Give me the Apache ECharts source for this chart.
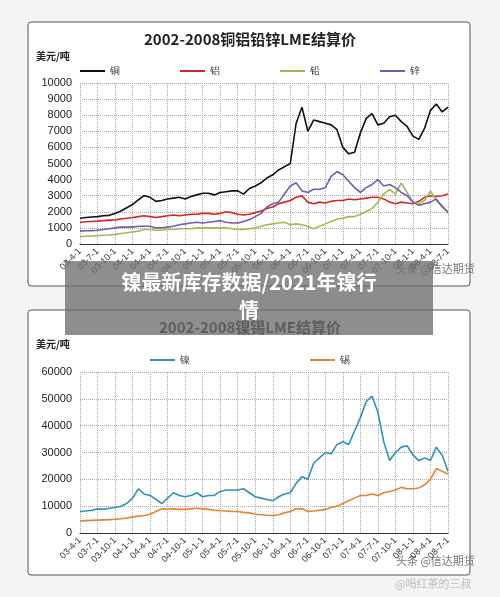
<!DOCTYPE html><html><head><meta charset="utf-8">
<script src="https://cdn.jsdelivr.net/npm/echarts@6/dist/echarts.min.js"></script>
<style>html,body{margin:0;background:#f4f4f4}#c{width:500px;height:597px}</style></head><body><div id="c"></div>
<script>
const months=[];for(let y=3;y<=8;y++)for(let m=1;m<=12;m++){if((y===3&&m<4)||(y===8&&m>7))continue;months.push('0'+y+'-'+m+'-1');}
const copper=[1600,1650,1680,1700,1750,1780,1900,2050,2250,2450,2750,3000,2900,2650,2700,2800,2850,2900,2800,2950,3050,3150,3150,3050,3200,3250,3300,3300,3100,3450,3600,3800,4100,4300,4600,4800,5000,7500,8500,7000,7700,7600,7500,7400,7100,6000,5600,5700,6900,7800,8100,7400,7500,7900,8000,7600,7300,6700,6500,7200,8300,8700,8200,8500];
const aluminium=[1350,1380,1400,1420,1450,1480,1500,1550,1600,1650,1700,1750,1700,1650,1700,1750,1800,1750,1800,1850,1850,1900,1900,1850,1900,2000,1950,1850,1800,1850,1950,2050,2200,2300,2500,2600,2700,2900,3000,2600,2500,2600,2550,2650,2700,2700,2800,2750,2800,2850,2900,2900,2800,2600,2500,2600,2550,2500,2650,2900,3000,2950,3000,3100];
const lead=[450,480,500,520,540,560,600,650,700,750,800,900,900,850,850,900,900,950,950,950,1000,1000,1000,1000,1000,1000,950,900,900,950,1000,1100,1200,1250,1300,1350,1200,1250,1200,1100,950,1100,1250,1400,1550,1600,1700,1700,1850,2000,2200,2600,3100,3400,3100,3800,3200,2600,2500,2700,3300,2700,2400,1900];
const zinc=[800,820,830,850,900,950,1000,1050,1050,1050,1100,1100,1100,1000,1000,1050,1100,1200,1250,1300,1350,1300,1350,1400,1450,1350,1300,1300,1400,1500,1700,1900,2300,2500,2600,3100,3600,3800,3300,3200,3400,3400,3500,4200,4500,4300,3900,3500,3200,3500,3700,4000,3600,3700,3500,3200,3000,2600,2400,2500,2600,2800,2300,2000];
const nickel=[8000,8200,8500,9000,8800,9200,9500,10000,11000,13000,16500,14500,14000,12500,11000,13000,15000,14000,13500,14000,15000,13500,14000,14000,15500,16000,16000,16000,16500,15000,13500,13000,12500,12000,13500,14500,15000,18500,21000,20000,26000,28000,30000,29500,33000,34000,33000,38000,43000,49000,51000,45000,34000,27000,30000,32000,32500,29000,27000,28000,27000,32000,29000,23000];
const tin=[4500,4600,4700,4800,4900,5000,5100,5300,5600,6000,6300,6500,7000,8000,9000,9000,9000,8800,8800,9000,9200,9000,8800,8500,8300,8200,8000,8000,7700,7500,7000,6800,6600,6500,6800,7500,8000,9000,9000,8000,8200,8500,8800,9500,10000,11000,12000,13000,14000,14000,14500,14000,15000,15500,16000,17000,16500,16500,16800,18000,20000,24000,23000,22000];
const ch=echarts.init(document.getElementById('c'));
const xa=i=>({type:'category',gridIndex:i,data:months,boundaryGap:false,
 axisLine:{lineStyle:{color:'#333'}},axisTick:{show:false},
 axisLabel:{interval:2,rotate:45,fontSize:9,color:'#333',margin:6},
 splitLine:{show:true,interval:2,lineStyle:{type:'dotted',color:'#aaa'}}});
const ya=(i,max,iv)=>({type:'value',gridIndex:i,min:0,max:max,interval:iv,
 axisLabel:{fontSize:11,color:'#222',formatter:v=>String(v)},axisLine:{show:false},
 splitLine:{lineStyle:{type:'dotted',color:'#aaa'}}});
const ln=(name,data,color,i)=>({name,type:'line',data,xAxisIndex:i,yAxisIndex:i,showSymbol:false,
 lineStyle:{width:1.6,color},itemStyle:{color}});
ch.setOption({animation:false,
 grid:[{left:80,right:52,top:83,height:161},{left:80,right:52,top:372,height:161}],
 xAxis:[xa(0),xa(1)],yAxis:[ya(0,10000,1000),ya(1,60000,10000)],
 legend:[{data:['铜','铝','铅','锌'],top:61,left:'center',icon:'rect',itemWidth:25,itemHeight:2,itemGap:60,textStyle:{fontSize:10,color:'#333'}},
  {data:['镍','锡'],top:350,left:'center',icon:'rect',itemWidth:25,itemHeight:2,itemGap:120,textStyle:{fontSize:10,color:'#333'}}],
 series:[ln('铜',copper,'#111',0),ln('铝',aluminium,'#d8261f',0),ln('铅',lead,'#9bbf4f',0),ln('锌',zinc,'#7a5ab0',0),
  ln('镍',nickel,'#2f93b8',1),ln('锡',tin,'#e8822f',1)],
 graphic:[
  {type:'rect',shape:{x:28,y:22,width:442,height:264,r:3},style:{fill:'#fff',stroke:'#555',lineWidth:1},z:-10},
  {type:'rect',shape:{x:28,y:310,width:442,height:265,r:3},style:{fill:'#fff',stroke:'#555',lineWidth:1},z:-10},
  {type:'text',left:'center',top:32,style:{text:'2002-2008铜铝铅锌LME结算价',font:'bold 15px "Noto Sans CJK SC"',fill:'#222'}},
  {type:'text',left:'center',top:320,style:{text:'2002-2008镍锡LME结算价',font:'bold 15px "Noto Sans CJK SC"',fill:'#222'}},
  {type:'text',left:36,top:51,style:{text:'美元/吨',font:'bold 10px "Noto Sans CJK SC"',fill:'#222'}},
  {type:'text',left:36,top:339,style:{text:'美元/吨',font:'bold 10px "Noto Sans CJK SC"',fill:'#222'}},
  {type:'text',left:396,top:263,style:{text:'头条 @信达期货',font:'11px "Noto Sans CJK SC"',fill:'#777'}},
  {type:'text',left:396,top:555,style:{text:'头条 @信达期货',font:'11px "Noto Sans CJK SC"',fill:'#777'}},
  {type:'text',left:395,top:578,style:{text:'@喝红茶的三叔',font:'11px "Noto Sans CJK SC"',fill:'#bbb'}},
  {type:'rect',shape:{x:65,y:261,width:368,height:74},style:{fill:'rgba(110,110,110,0.78)'},z:100},
  {type:'text',x:249,y:268,z:101,style:{text:'镍最新库存数据/2021年镍行\n情',textAlign:'center',font:'bold 20px "Noto Sans CJK SC"',lineHeight:28,fill:'#fff'}}
 ]});
</script></body></html>
